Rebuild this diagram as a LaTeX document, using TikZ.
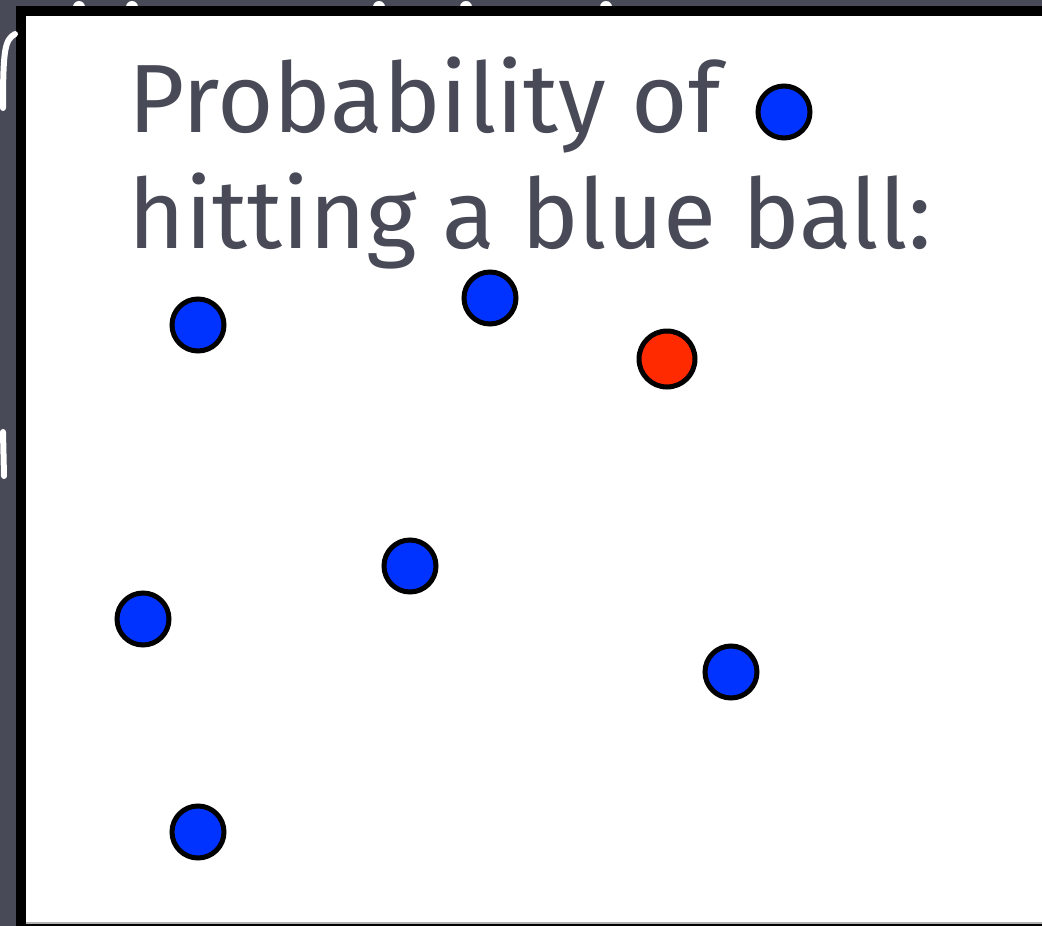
\documentclass[tikz,border=0pt]{standalone}
\usepackage{fontspec}
\setmainfont{Fira Sans}
\usepackage{tikz}
\definecolor{slate}{HTML}{484A57}
\definecolor{ballblue}{HTML}{0033FF}
\definecolor{ballred}{HTML}{FF2A00}
\tikzset{
  ball/.style    ={circle, draw=black, line width=5pt, minimum size=52pt,
                   inner sep=0pt},
  blueball/.style={ball, fill=ballblue},
  redball/.style ={ball, fill=ballred, minimum size=56pt},
  scrap/.style   ={draw=white, line width=6pt, line cap=round},
  title/.style   ={font=\fontsize{97}{116}\selectfont, text=slate,
                   align=left, anchor=base west, inner sep=0pt}
}
\begin{document}
\begin{tikzpicture}[x=1pt, y=-1pt]
  \useasboundingbox (0,0) rectangle (1042,926);

  % board and frame
  \fill[slate] (0,0) rectangle (1042,926);
  \foreach \x in {79,132,379,466,606}
    \fill[white] (\x,7) circle[radius=6pt];
  \fill[black] (16,6) rectangle (1042,926);
  \fill[white] (26,16) rectangle (1042,922);
  \fill[gray!60] (26,922) rectangle (1042,924);

  % bits of chalk outside the frame
  \draw[scrap] (15,34) .. controls (5,40) and (3,48) .. (3,108);
  \draw[scrap] (3,432) -- (4,476);

  % question
  \node[title] (question) at (128,132) {Probability of};
  \node[title] (question2) at (128,248) {hitting a blue ball:};

  % balls
  \node[blueball] (key) at (784,112) {};
  \node[blueball] (b1) at (198,325) {};
  \node[blueball] (b2) at (490,298) {};
  \node[redball]  (r1) at (667,359) {};
  \node[blueball] (b3) at (410,566) {};
  \node[blueball] (b4) at (143,619) {};
  \node[blueball] (b5) at (731,672) {};
  \node[blueball] (b6) at (198,832) {};
\end{tikzpicture}
\end{document}
